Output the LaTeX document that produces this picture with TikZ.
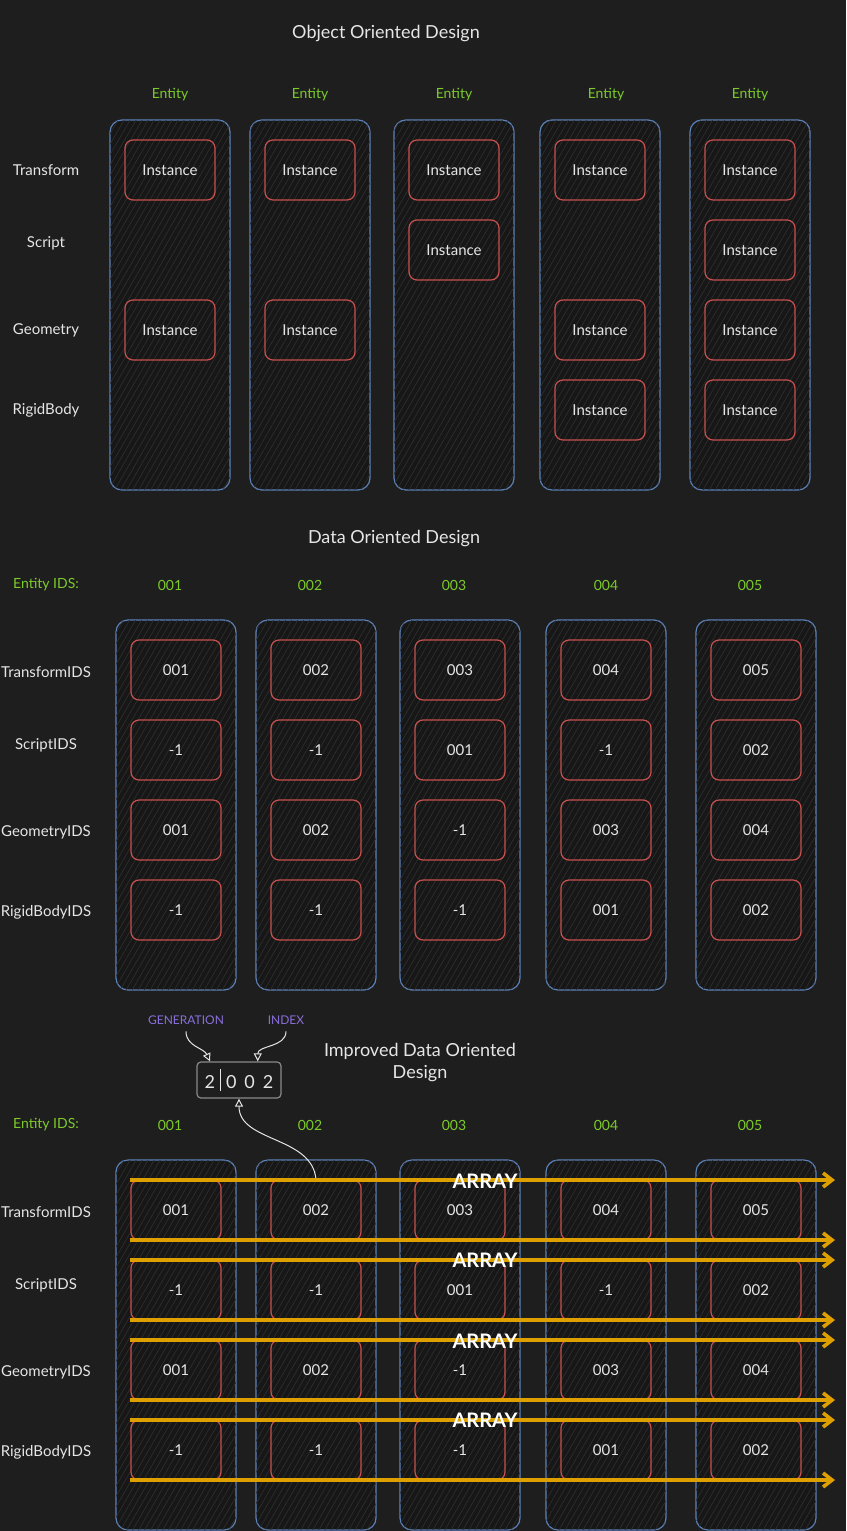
\documentclass[tikz,border=0pt]{standalone}
\usepackage{fontspec}
\setmainfont{Lato}
\usetikzlibrary{arrows.meta,patterns.meta,calc}

\definecolor{bgdark}{HTML}{1E1E1E}
\definecolor{colblue}{HTML}{5C82B8}
\definecolor{boxred}{HTML}{C9514E}
\definecolor{idgreen}{HTML}{7CCB2A}
\definecolor{genpurple}{HTML}{8A6FDC}
\definecolor{arrayorange}{HTML}{DDA000}
\definecolor{txtgray}{HTML}{E6E6E6}
\definecolor{hatchgray}{HTML}{2E2E2E}
\definecolor{boxfill}{HTML}{171717}
\definecolor{idframe}{HTML}{8A8A8A}

\tikzset{
  entitycol/.style={draw=colblue, line width=0.6pt, rounded corners=6pt,
    minimum width=60pt, minimum height=185pt, fill=boxfill,
    postaction={pattern={Lines[angle=60,distance=2.6pt,line width=0.35pt]}, pattern color=hatchgray}},
  compbox/.style={draw=boxred, line width=0.6pt, rounded corners=4pt,
    minimum width=45pt, minimum height=30pt, text=txtgray, font=\fontsize{7.5}{9}\selectfont},
  rowlabel/.style={text=txtgray, font=\fontsize{7.5}{9}\selectfont},
  idlabel/.style={text=idgreen, font=\fontsize{7}{8}\selectfont},
  sectiontitle/.style={text=txtgray, font=\fontsize{9}{11}\selectfont, align=center},
  fieldlabel/.style={text=genpurple, font=\fontsize{6}{7}\selectfont},
  noteline/.style={draw=txtgray, line width=0.5pt, -{Triangle[open,length=4pt,width=4pt]}},
  arrayline/.style={draw=arrayorange, line width=1.8pt, -{Straight Barb[length=4.5pt,width=7pt]}},
  arraylabel/.style={text=white, font=\bfseries\fontsize{10}{12}\selectfont}
}

\begin{document}
\begin{tikzpicture}[x=0.5pt,y=-0.5pt]
\fill[bgdark] (0,0) rectangle (846,1531);
\useasboundingbox (0,0) rectangle (846,1531);

% Object Oriented Design
\node[sectiontitle] (oodtitle) at (386,34) {Object Oriented Design};
\node[idlabel] (ent1) at (170,95) {Entity};
\node[idlabel] (ent2) at (310,95) {Entity};
\node[idlabel] (ent3) at (454,95) {Entity};
\node[idlabel] (ent4) at (606,95) {Entity};
\node[idlabel] (ent5) at (750,95) {Entity};
\node[rowlabel] (lbltransform) at (46,170) {Transform};
\node[rowlabel] (lblscript) at (46,243) {Script};
\node[rowlabel] (lblgeometry) at (46,330) {Geometry};
\node[rowlabel] (lblrigid) at (46,410) {RigidBody};
\node[entitycol] (oocol1) at (170,305) {};
\node[entitycol] (oocol2) at (310,305) {};
\node[entitycol] (oocol3) at (454,305) {};
\node[entitycol] (oocol4) at (600,305) {};
\node[entitycol] (oocol5) at (750,305) {};
\node[compbox] (inst11) at (170,170) {Instance};
\node[compbox] (inst13) at (170,330) {Instance};
\node[compbox] (inst21) at (310,170) {Instance};
\node[compbox] (inst23) at (310,330) {Instance};
\node[compbox] (inst31) at (454,170) {Instance};
\node[compbox] (inst32) at (454,250) {Instance};
\node[compbox] (inst41) at (600,170) {Instance};
\node[compbox] (inst43) at (600,330) {Instance};
\node[compbox] (inst44) at (600,410) {Instance};
\node[compbox] (inst51) at (750,170) {Instance};
\node[compbox] (inst52) at (750,250) {Instance};
\node[compbox] (inst53) at (750,330) {Instance};
\node[compbox] (inst54) at (750,410) {Instance};

% Data Oriented Design
\node[sectiontitle] (dodtitle) at (394,539) {Data Oriented Design};
\node[idlabel] (dodids) at (46,585) {Entity IDS:};
\node[idlabel] (dodid1) at (170,585) {001};
\node[idlabel] (dodid2) at (310,585) {002};
\node[idlabel] (dodid3) at (454,585) {003};
\node[idlabel] (dodid4) at (606,585) {004};
\node[idlabel] (dodid5) at (750,585) {005};
\node[rowlabel] (dodtransform) at (46,672) {TransformIDS};
\node[rowlabel] (dodscript) at (46,745) {ScriptIDS};
\node[rowlabel] (dodgeometry) at (46,832) {GeometryIDS};
\node[rowlabel] (dodrigid) at (46,912) {RigidBodyIDS};
\node[entitycol] (dodcol1) at (176,805) {};
\node[entitycol] (dodcol2) at (316,805) {};
\node[entitycol] (dodcol3) at (460,805) {};
\node[entitycol] (dodcol4) at (606,805) {};
\node[entitycol] (dodcol5) at (756,805) {};
\node[compbox] (dodbox11) at (176,670) {001};
\node[compbox] (dodbox12) at (176,750) {-1};
\node[compbox] (dodbox13) at (176,830) {001};
\node[compbox] (dodbox14) at (176,910) {-1};
\node[compbox] (dodbox21) at (316,670) {002};
\node[compbox] (dodbox22) at (316,750) {-1};
\node[compbox] (dodbox23) at (316,830) {002};
\node[compbox] (dodbox24) at (316,910) {-1};
\node[compbox] (dodbox31) at (460,670) {003};
\node[compbox] (dodbox32) at (460,750) {001};
\node[compbox] (dodbox33) at (460,830) {-1};
\node[compbox] (dodbox34) at (460,910) {-1};
\node[compbox] (dodbox41) at (606,670) {004};
\node[compbox] (dodbox42) at (606,750) {-1};
\node[compbox] (dodbox43) at (606,830) {003};
\node[compbox] (dodbox44) at (606,910) {001};
\node[compbox] (dodbox51) at (756,670) {005};
\node[compbox] (dodbox52) at (756,750) {002};
\node[compbox] (dodbox53) at (756,830) {004};
\node[compbox] (dodbox54) at (756,910) {002};

% Improved Data Oriented Design
\node[sectiontitle] (imptitle) at (420,1063) {Improved Data Oriented\\Design};
\node[fieldlabel] (gen) at (186,1020) {GENERATION};
\node[fieldlabel] (index) at (286,1020) {INDEX};
\node[draw=idframe, line width=0.6pt, rounded corners=2pt, minimum width=42pt, minimum height=15pt,
  inner xsep=2pt, text=txtgray, font=\fontsize{9}{10}\selectfont] (idbox) at (239,1080)
  {2\hspace{2.5pt}\rule[-0.3ex]{0.5pt}{2.5ex}\hspace{2.5pt}0\hspace{4pt}0\hspace{4pt}2};
\node[idlabel] (impids) at (46,1125) {Entity IDS:};
\node[idlabel] (impid1) at (170,1125) {001};
\node[idlabel] (impid2) at (310,1125) {002};
\node[idlabel] (impid3) at (454,1125) {003};
\node[idlabel] (impid4) at (606,1125) {004};
\node[idlabel] (impid5) at (750,1125) {005};
\node[rowlabel] (imptransform) at (46,1212) {TransformIDS};
\node[rowlabel] (impscript) at (46,1285) {ScriptIDS};
\node[rowlabel] (impgeometry) at (46,1372) {GeometryIDS};
\node[rowlabel] (imprigid) at (46,1452) {RigidBodyIDS};
\node[entitycol] (impcol1) at (176,1345) {};
\node[entitycol] (impcol2) at (316,1345) {};
\node[entitycol] (impcol3) at (460,1345) {};
\node[entitycol] (impcol4) at (606,1345) {};
\node[entitycol] (impcol5) at (756,1345) {};
\node[compbox] (impbox11) at (176,1210) {001};
\node[compbox] (impbox12) at (176,1290) {-1};
\node[compbox] (impbox13) at (176,1370) {001};
\node[compbox] (impbox14) at (176,1450) {-1};
\node[compbox] (impbox21) at (316,1210) {002};
\node[compbox] (impbox22) at (316,1290) {-1};
\node[compbox] (impbox23) at (316,1370) {002};
\node[compbox] (impbox24) at (316,1450) {-1};
\node[compbox] (impbox31) at (460,1210) {003};
\node[compbox] (impbox32) at (460,1290) {001};
\node[compbox] (impbox33) at (460,1370) {-1};
\node[compbox] (impbox34) at (460,1450) {-1};
\node[compbox] (impbox41) at (606,1210) {004};
\node[compbox] (impbox42) at (606,1290) {-1};
\node[compbox] (impbox43) at (606,1370) {003};
\node[compbox] (impbox44) at (606,1450) {001};
\node[compbox] (impbox51) at (756,1210) {005};
\node[compbox] (impbox52) at (756,1290) {002};
\node[compbox] (impbox53) at (756,1370) {004};
\node[compbox] (impbox54) at (756,1450) {002};

% id fields
\draw[noteline] (gen.south) to[out=-90,in=115] ($(idbox.north west)!0.16!(idbox.north east)$);
\draw[noteline] (index.south) to[out=-90,in=90] ($(idbox.north west)!0.72!(idbox.north east)$);
\draw[noteline] (impbox21.north) to[out=95,in=-90] (idbox.south);

% arrays
\coordinate (arr1s) at (130,1180); \coordinate (arr1e) at (835,1180);
\coordinate (arr2s) at (130,1240); \coordinate (arr2e) at (835,1240);
\coordinate (arr3s) at (130,1260); \coordinate (arr3e) at (835,1260);
\coordinate (arr4s) at (130,1320); \coordinate (arr4e) at (835,1320);
\coordinate (arr5s) at (130,1340); \coordinate (arr5e) at (835,1340);
\coordinate (arr6s) at (130,1400); \coordinate (arr6e) at (835,1400);
\coordinate (arr7s) at (130,1420); \coordinate (arr7e) at (835,1420);
\coordinate (arr8s) at (130,1480); \coordinate (arr8e) at (835,1480);
\draw[arrayline] (arr1s) -- (arr1e);
\draw[arrayline] (arr2s) -- (arr2e);
\draw[arrayline] (arr3s) -- (arr3e);
\draw[arrayline] (arr4s) -- (arr4e);
\draw[arrayline] (arr5s) -- (arr5e);
\draw[arrayline] (arr6s) -- (arr6e);
\draw[arrayline] (arr7s) -- (arr7e);
\draw[arrayline] (arr8s) -- (arr8e);
\node[arraylabel] (array1) at (485,1181) {ARRAY};
\node[arraylabel] (array2) at (485,1260) {ARRAY};
\node[arraylabel] (array3) at (485,1341) {ARRAY};
\node[arraylabel] (array4) at (485,1420) {ARRAY};
\end{tikzpicture}
\end{document}
